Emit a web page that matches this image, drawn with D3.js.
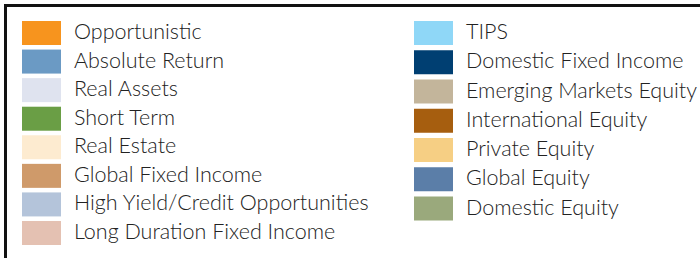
<!DOCTYPE html>
<html>
<head>
<meta charset="utf-8">
<script src="https://cdn.jsdelivr.net/npm/d3@7"></script>
<style>
  body { margin: 0; background: #fff; }
  text { font-family: Lato, "Open Sans", sans-serif; font-weight: 300; fill: #222; }
</style>
</head>
<body>
<script>
// legend entries, left column then right column
let leftNames = ["Opportunistic", "Absolute Return", "Real Assets", "Short Term",
  "Real Estate", "Global Fixed Income", "High Yield/Credit Opportunities",
  "Long Duration Fixed Income"];
let leftColors = ["#f7941e", "#6b9ac4", "#dfe3ef", "#6a9e45",
  "#fdebd0", "#cf9a6a", "#b4c4da", "#e4c1b2"];

let rightNames = ["TIPS", "Domestic Fixed Income", "Emerging Markets Equity",
  "International Equity", "Private Equity", "Global Equity", "Domestic Equity"];
let rightColors = ["#8fd7f7", "#003f72", "#c3b59b", "#a65e0f",
  "#f6cf84", "#5b7ea8", "#9aa97c"];

let width = 700;
let height = 258;

let svg = d3.select("body").append("svg")
  .attr("width", width)
  .attr("height", height);

// frame (only top and left edges fall inside the picture)
svg.append("rect")
  .attr("x", 5.5)
  .attr("y", 5.5)
  .attr("width", width + 20)
  .attr("height", height + 20)
  .attr("fill", "none")
  .attr("stroke", "#111")
  .attr("stroke-width", 3);

function drawColumn(names, colors, x0, step) {
  let y = d3.scaleLinear()
    .domain([0, 1])
    .range([21, 21 + step]);

  let items = svg.append("g")
    .selectAll("g")
    .data(names)
    .join("g")
    .attr("transform", (d, i) => `translate(${x0},${y(i)})`);

  items.append("rect")
    .attr("width", 39)
    .attr("height", 24)
    .attr("fill", (d, i) => colors[i]);

  items.append("text")
    .attr("x", 52)
    .attr("y", 18)
    .style("font-size", "21.5px")
    .text(d => d);
}

drawColumn(leftNames, leftColors, 22, 28.57);
drawColumn(rightNames, rightColors, 414, 29.25);
</script>
</body>
</html>
